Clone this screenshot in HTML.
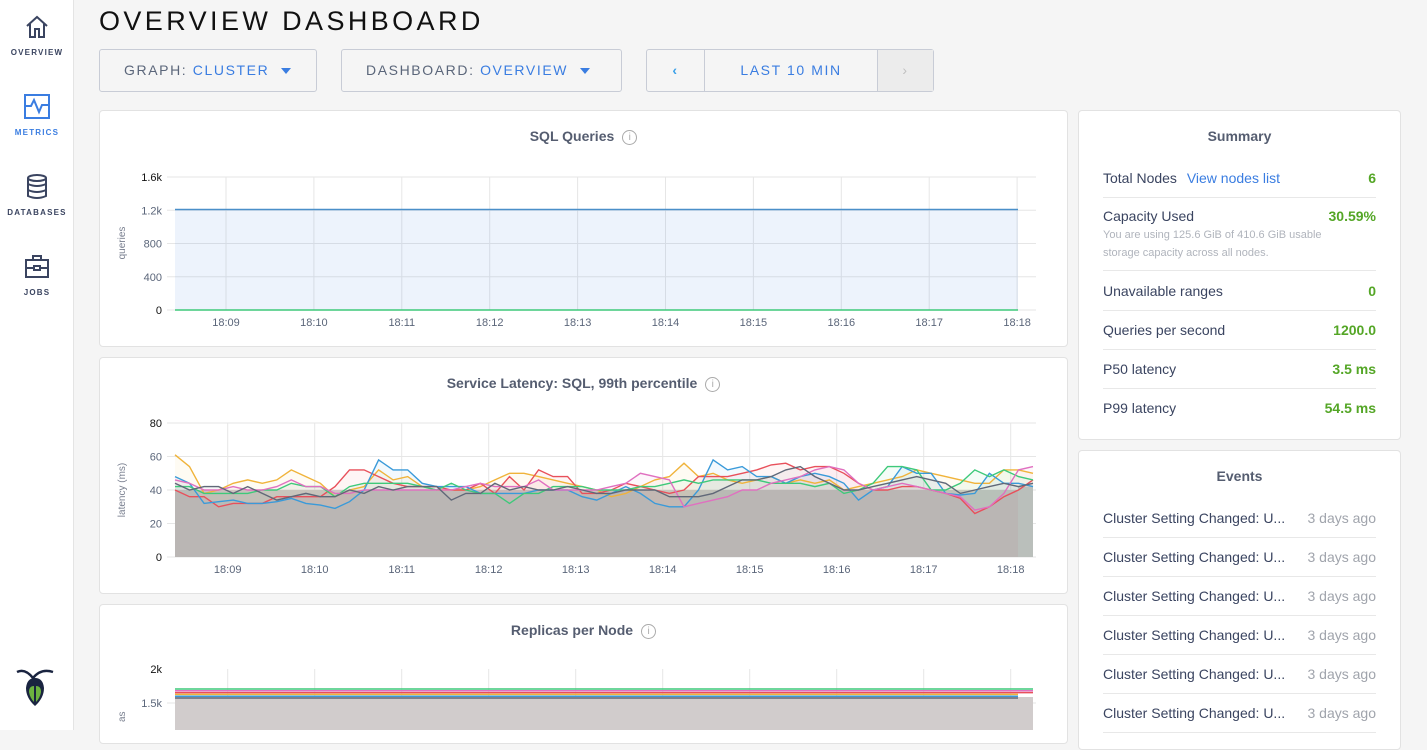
<!DOCTYPE html>
<html><head><meta charset="utf-8">
<style>
*{box-sizing:border-box;margin:0;padding:0}
body{width:1427px;height:730px;overflow:hidden;background:#f5f5f5;font-family:"Liberation Sans",sans-serif;position:relative;color:#3a4460}
.side{position:absolute;left:0;top:0;width:74px;height:730px;background:#fff;border-right:1px solid #e4e4e4}
.nav{position:absolute;left:0;width:74px;text-align:center;font-size:8px;font-weight:bold;letter-spacing:1.2px;color:#3a4460}
.nav svg{display:block;margin:0 auto 8px}
h1{position:absolute;left:99px;top:6px;font-size:27px;font-weight:normal;letter-spacing:3.4px;color:#111}
.btn{position:absolute;top:49px;height:43px;border:1px solid #c8ccd6;border-radius:3px;background:#f5f5f5;font-size:14px;letter-spacing:1.6px;color:#5b667a;line-height:41px}
.btn b{font-weight:normal;color:#3a7de1}
.tri{display:inline-block;width:0;height:0;border-left:5px solid transparent;border-right:5px solid transparent;border-top:6px solid #3a7de1;vertical-align:middle;margin-left:12px}
.panel{position:absolute;background:#fff;border:1px solid #e2e2e2;border-radius:4px}
.ptitle{position:absolute;width:100%;text-align:center;font-size:14px;font-weight:bold;color:#555d70}
.info{display:inline-block;width:15px;height:15px;border:1px solid #aaa;border-radius:50%;font-size:10px;line-height:13px;color:#aaa;font-weight:normal;margin-left:8px;vertical-align:1px;text-align:center}
.row{position:absolute;left:24px;right:24px;font-size:14px;color:#3a4460;border-bottom:1px solid #e8e8e8;line-height:39px}
.row .v{position:absolute;right:0;top:0;color:#54a626;font-weight:bold}
.ev{position:absolute;left:24px;right:24px;font-size:14px;color:#3a4460;border-bottom:1px solid #e8e8e8;height:39px;line-height:39px}
.ev span{position:absolute;right:0;color:#a0a4ac}
svg text{font-family:"Liberation Sans",sans-serif}
</style></head><body>
<div class="side">
 <div class="nav" style="top:14px"><svg width="24" height="26" viewBox="0 0 24 26"><path d="M2 12 L12 3 L22 12 M5 10 V23 H10 V15 H14 V23 H19 V10" fill="none" stroke="#3a4460" stroke-width="2"/></svg>OVERVIEW</div>
 <div class="nav" style="top:94px;color:#3a7de1"><svg width="26" height="26" viewBox="0 0 26 26"><rect x="1" y="1" width="24" height="23" fill="none" stroke="#3a7de1" stroke-width="2"/><path d="M1 12 H7 L10 6 L15 18 L18 11 H25" fill="none" stroke="#3a7de1" stroke-width="2"/></svg>METRICS</div>
 <div class="nav" style="top:174px"><svg width="22" height="26" viewBox="0 0 22 26"><ellipse cx="11" cy="4" rx="9" ry="3" fill="none" stroke="#3a4460" stroke-width="2"/><path d="M2 4 V22 Q11 26 20 22 V4 M2 10 Q11 14 20 10 M2 16 Q11 20 20 16" fill="none" stroke="#3a4460" stroke-width="2"/></svg>DATABASES</div>
 <div class="nav" style="top:254px"><svg width="26" height="26" viewBox="0 0 26 26"><rect x="2" y="6" width="22" height="17" fill="none" stroke="#3a4460" stroke-width="2"/><path d="M9 6 V2 H17 V6 M2 14 H24" fill="none" stroke="#3a4460" stroke-width="2"/><rect x="10" y="12" width="6" height="4" fill="#fff" stroke="#3a4460" stroke-width="2"/></svg>JOBS</div>
 <svg style="position:absolute;left:15px;top:668px" width="40" height="40" viewBox="0 0 40 40"><path d="M2 4 Q10 0 18 10 Q26 0 38 4" fill="none" stroke="#1a2440" stroke-width="2.5"/><path d="M20 10 Q12 10 11 20 Q11 30 20 38 Q29 30 29 20 Q28 10 20 10Z" fill="#1a2440"/><path d="M19 18 Q14 18 14 24 Q15 30 19 34Z M21 18 Q26 18 26 24 Q25 30 21 34Z" fill="#6cb33f"/></svg>
</div>
<h1>OVERVIEW DASHBOARD</h1>
<div class="btn" style="left:99px;width:218px;padding-left:24px">GRAPH: <b>CLUSTER</b><span class="tri"></span></div>
<div class="btn" style="left:341px;width:281px;padding-left:24px">DASHBOARD: <b>OVERVIEW</b><span class="tri"></span></div>
<div class="btn" style="left:646px;width:288px;padding:0">
 <div style="position:absolute;left:0;width:57px;text-align:center;color:#3aa0e8;font-weight:bold">‹</div>
 <div style="position:absolute;left:57px;width:174px;border-left:1px solid #c8ccd6;border-right:1px solid #c8ccd6;text-align:center;height:41px;background:#f5f5f5"><b>LAST 10 MIN</b></div>
 <div style="position:absolute;left:231px;width:55px;height:41px;text-align:center;color:#c0c0c0;background:#ececec">›</div>
</div>

<div class="panel" style="left:99px;top:110px;width:969px;height:237px"><div class="ptitle" style="top:17px">SQL Queries<span class="info">i</span></div></div>
<div class="panel" style="left:99px;top:357px;width:969px;height:237px"><div class="ptitle" style="top:17px">Service Latency: SQL, 99th percentile<span class="info">i</span></div></div>
<div class="panel" style="left:99px;top:604px;width:969px;height:140px"><div class="ptitle" style="top:17px">Replicas per Node<span class="info">i</span></div></div>

<svg id="charts" style="position:absolute;left:0;top:0" width="1070" height="730"></svg>

<div class="panel" style="left:1078px;top:110px;width:323px;height:330px">
 <div class="ptitle" style="top:17px">Summary</div>
 <div class="row" style="top:48px;height:39px">Total Nodes <span style="color:#3a7de1;margin-left:6px">View nodes list</span><span class="v">6</span></div>
 <div class="row" style="top:87px;height:73px;line-height:normal;padding-top:10px"><div>Capacity Used</div><div style="font-size:11px;color:#b0b4bc;line-height:18px;margin-top:2px">You are using 125.6 GiB of 410.6 GiB usable<br>storage capacity across all nodes.</div><span class="v" style="top:10px">30.59%</span></div>
 <div class="row" style="top:160px;height:40px;line-height:40px">Unavailable ranges<span class="v">0</span></div>
 <div class="row" style="top:200px;height:39px">Queries per second<span class="v">1200.0</span></div>
 <div class="row" style="top:239px;height:39px">P50 latency<span class="v">3.5 ms</span></div>
 <div class="row" style="top:278px;height:39px;border:none">P99 latency<span class="v">54.5 ms</span></div>
</div>
<div class="panel" style="left:1078px;top:450px;width:323px;height:300px">
 <div class="ptitle" style="top:17px">Events</div>
 <div class="ev" style="top:48px">Cluster Setting Changed: U...<span>3 days ago</span></div>
 <div class="ev" style="top:87px">Cluster Setting Changed: U...<span>3 days ago</span></div>
 <div class="ev" style="top:126px">Cluster Setting Changed: U...<span>3 days ago</span></div>
 <div class="ev" style="top:165px">Cluster Setting Changed: U...<span>3 days ago</span></div>
 <div class="ev" style="top:204px">Cluster Setting Changed: U...<span>3 days ago</span></div>
 <div class="ev" style="top:243px">Cluster Setting Changed: U...<span>3 days ago</span></div>
</div>

<script>
var s=document.getElementById('charts'),h='';
function grid(y0,y1,x0,x1,g0,gs,ylabels,ytitle,ty){
 for(var i=0;i<10;i++){var x=g0+i*gs;h+='<line x1="'+x+'" y1="'+y0+'" x2="'+x+'" y2="'+y1+'" stroke="#e6e6e6"/>';
  h+='<text x="'+x+'" y="'+(y1+16)+'" font-size="11" fill="#5b667a" text-anchor="middle">18:'+(i==0?'09':(10+i-1))+'</text>';}
 for(var j=0;j<ylabels.length;j++){var y=y1-(y1-y0)*j/(ylabels.length-1);
  h+='<line x1="'+(x0-8)+'" y1="'+y+'" x2="'+x1+'" y2="'+y+'" stroke="#e6e6e6"/>';
  h+='<text x="162" y="'+(y+4)+'" font-size="11" fill="'+(j==0||j==ylabels.length-1?'#111':'#5b667a')+'" text-anchor="end">'+ylabels[j]+'</text>';}
 h+='<text transform="translate(125,'+ty+') rotate(-90)" font-size="10" fill="#7a8090" text-anchor="middle">'+ytitle+'</text>';
}
grid(177,310,175,1036,226,87.9,['0','400','800','1.2k','1.6k'],'queries',243);
h+='<rect x="175" y="209" width="843" height="101" fill="#3a7de1" fill-opacity="0.09"/>';
h+='<line x1="175" y1="209.5" x2="1018" y2="209.5" stroke="#4a8fc9" stroke-width="1.5"/>';
h+='<line x1="175" y1="310" x2="1018" y2="310" stroke="#3ec97a" stroke-width="1.5"/>';
grid(423,557,175,1036,227.7,87,['0','20','40','60','80'],'latency (ms)',490);
var cols=['#f0b33a','#e8505b','#3a9ad9','#3ec97a','#e070c0','#606878'];
var N=60,x0=175,x1=1033,dx=(x1-x0)/(N-1);
var base=[[61,54,38,40,44,46,44,46,52,48,44,36,40,42,52,46,48,42,40,40,40,42,46,50,50,48,46,44,42,40,36,38,42,46,48,56,48,50,46,44,46,48,44,46,44,46,40,42,44,46,48,52,50,48,46,44,44,52,52,50],
[40,36,36,30,32,32,32,36,36,36,36,42,52,52,48,44,42,42,42,40,40,44,38,48,40,52,48,48,38,38,40,44,42,40,38,40,48,48,48,50,52,55,56,52,54,54,50,44,40,40,42,42,40,38,35,26,30,36,40,46],
[48,44,32,33,34,32,32,33,35,32,31,29,33,40,58,52,52,44,42,42,42,38,38,38,38,40,40,40,36,34,38,42,38,32,30,30,40,58,52,54,48,48,44,48,50,48,44,34,40,42,54,50,50,38,37,38,50,44,44,42],
[42,42,38,38,38,38,40,40,44,42,42,36,42,44,44,44,44,42,40,44,40,38,38,32,38,38,42,42,42,40,40,40,42,42,44,46,44,46,46,46,46,44,44,44,42,44,38,40,44,54,54,52,40,40,44,52,48,52,48,46],
[46,44,40,40,42,40,40,42,46,42,42,38,38,40,40,40,40,40,40,40,42,44,42,42,42,46,40,40,40,40,42,44,50,48,46,30,32,34,36,40,40,44,46,48,52,54,52,44,40,42,44,42,40,38,36,28,30,38,52,54],
[44,40,42,42,38,42,38,34,36,38,36,36,40,38,42,40,42,42,42,34,38,38,44,40,42,40,40,42,40,38,38,40,40,40,36,36,36,38,42,46,46,48,52,54,48,44,40,40,42,44,46,48,46,44,38,40,42,44,42,44]];
var yv=function(v){return 557-v*134/80;};
h+='<rect x="175" y="'+yv(40)+'" width="843" height="'+(557-yv(40))+'" fill="#cfcbcb"/>';
h+='<rect x="1018" y="'+yv(42)+'" width="15" height="'+(557-yv(42))+'" fill="#cfd8d6"/>';
for(var k=0;k<6;k++){var p='';for(var i=0;i<N;i++)p+=(x0+i*dx).toFixed(1)+','+yv(base[k][i]).toFixed(1)+' ';
 h+='<polygon points="'+x0+',557 '+p+x1+',557" fill="'+cols[k]+'" fill-opacity="0.06"/>';}
for(var k=0;k<6;k++){var p='';for(var i=0;i<N;i++)p+=(x0+i*dx).toFixed(1)+','+yv(base[k][i]).toFixed(1)+' ';
 h+='<polyline points="'+p+'" fill="none" stroke="'+cols[k]+'" stroke-width="1.4"/>';}
for(var i=0;i<10;i++){var x=227.7+i*87;h+='<line x1="'+x+'" y1="669" x2="'+x+'" y2="730" stroke="#e6e6e6"/>';}
h+='<line x1="167" y1="703" x2="1036" y2="703" stroke="#e6e6e6"/>';
h+='<text x="162" y="673" font-size="11" fill="#111" text-anchor="end">2k</text><text x="162" y="707" font-size="11" fill="#5b667a" text-anchor="end">1.5k</text>';
h+='<text transform="translate(125,722) rotate(-90)" font-size="10" fill="#7a8090">as</text>';
h+='<rect x="175" y="697" width="858" height="40" fill="#d1cccc"/>';
var rc=['#3ec97a','#e070c0','#e8505b','#f0b33a','#3a9ad9','#606878'];
for(var k=0;k<6;k++){var y=689+k*1.8;h+='<line x1="175" y1="'+y+'" x2="'+(k<3?1033:1018)+'" y2="'+y+'" stroke="'+rc[k]+'" stroke-width="1.5"/>';}
s.innerHTML=h;
</script>
</body></html>
